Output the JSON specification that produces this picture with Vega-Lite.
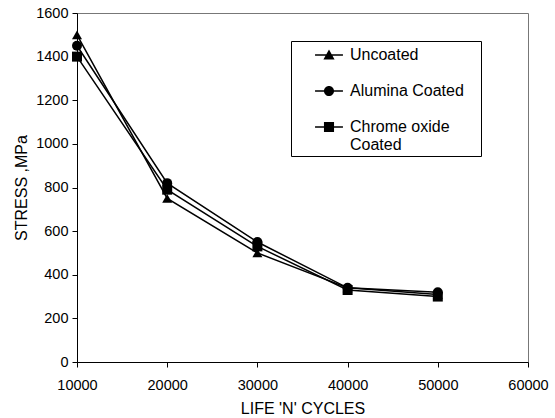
{
  "$schema": "https://vega.github.io/schema/vega-lite/v6.json",
  "autosize": "none",
  "width": 451,
  "height": 349,
  "padding": {"left": 77, "top": 13, "right": 27, "bottom": 56},
  "background": "white",
  "config": {
    "font": "Liberation Sans",
    "view": {"stroke": "#777777", "strokeWidth": 1},
    "axis": {"grid": false, "domainColor": "black", "tickColor": "black", "labelColor": "black", "titleColor": "black", "labelFontSize": 14.5, "titleFontSize": 16, "titleFontWeight": "normal", "tickSize": 5}
  },
  "data": {"values": [
    {"cycles": 10000, "stress": 1500, "series": "Uncoated"},
    {"cycles": 20000, "stress": 750, "series": "Uncoated"},
    {"cycles": 30000, "stress": 500, "series": "Uncoated"},
    {"cycles": 40000, "stress": 340, "series": "Uncoated"},
    {"cycles": 50000, "stress": 310, "series": "Uncoated"},
    {"cycles": 10000, "stress": 1450, "series": "Alumina Coated"},
    {"cycles": 20000, "stress": 820, "series": "Alumina Coated"},
    {"cycles": 30000, "stress": 550, "series": "Alumina Coated"},
    {"cycles": 40000, "stress": 340, "series": "Alumina Coated"},
    {"cycles": 50000, "stress": 320, "series": "Alumina Coated"},
    {"cycles": 10000, "stress": 1400, "series": "Chrome oxide Coated"},
    {"cycles": 20000, "stress": 790, "series": "Chrome oxide Coated"},
    {"cycles": 30000, "stress": 530, "series": "Chrome oxide Coated"},
    {"cycles": 40000, "stress": 330, "series": "Chrome oxide Coated"},
    {"cycles": 50000, "stress": 300, "series": "Chrome oxide Coated"}
  ]},
  "encoding": {
    "x": {"field": "cycles", "type": "quantitative", "scale": {"domain": [10000, 60000], "nice": false, "zero": false},
      "axis": {"title": "LIFE 'N' CYCLES", "values": [10000, 20000, 30000, 40000, 50000, 60000], "format": "d", "labelFlush": false, "labelPadding": 11, "titlePadding": 9}},
    "y": {"field": "stress", "type": "quantitative", "scale": {"domain": [0, 1600], "nice": false},
      "axis": {"title": "STRESS ,MPa", "values": [0, 200, 400, 600, 800, 1000, 1200, 1400, 1600], "format": "d", "labelPadding": 4, "titlePadding": 6}}
  },
  "resolve": {"scale": {"shape": "independent"}, "legend": {"shape": "independent"}},
  "layer": [
    {
      "mark": {"type": "line", "color": "black", "strokeWidth": 1.5},
      "encoding": {"detail": {"field": "series"}}
    },
    {
      "mark": {"type": "point", "filled": true, "color": "black", "opacity": 1, "size": 100},
      "encoding": {
        "shape": {"field": "series", "type": "nominal", "legend": null,
          "scale": {"domain": ["Uncoated", "Alumina Coated", "Chrome oxide Coated"], "range": ["triangle-up", "circle", "square"]}}
      }
    },
    {
      "mark": {"type": "point", "filled": true, "color": "black", "opacity": 0, "size": 100},
      "encoding": {
        "shape": {"field": "series", "type": "nominal",
          "scale": {"domain": ["Uncoated", "Alumina Coated", "Chrome oxide Coated"],
            "range": ["M-1.55,-0.075L1.55,-0.075L1.55,0.075L-1.55,0.075ZM-0.62,0.5L0,-0.6L0.62,0.5Z", "M-1.55,-0.075L1.55,-0.075L1.55,0.075L-1.55,0.075ZM-0.56,0A0.56,0.56,0,1,1,0.56,0A0.56,0.56,0,1,1,-0.56,0Z", "M-1.55,-0.075L1.55,-0.075L1.55,0.075L-1.55,0.075ZM-0.56,-0.56L0.56,-0.56L0.56,0.56L-0.56,0.56Z"]},
          "legend": {
            "title": "MMMMMMMMMMMMMMMMMMMMMMMMMMMMMMMMMMMMMMMMMMMMMMMMMMMMMMMMMMMMMMMMMMMMMMMMMMMMMMMMMMMMMMMMMMMMMMMMMMMMMMMMMMMMMM",
            "titleOpacity": 0, "titleFontSize": 2, "titlePadding": 0, "titleLimit": 1000,
            "orient": "none", "legendX": 214, "legendY": 28,
            "strokeColor": "black", "fillColor": "white", "padding": 3,
            "symbolOpacity": 1, "symbolFillColor": "black", "symbolStrokeColor": "black", "symbolStrokeWidth": 0, "symbolSize": 324, "symbolOffset": 26,
            "labelFontSize": 16, "labelColor": "black", "labelOffset": 12, "rowPadding": 19,
            "labelBaseline": "middle",
            "labelExpr": "datum.label == 'Chrome oxide Coated' ? ['Chrome oxide', 'Coated'] : datum.label",
            "labelLimit": 300,
            "encode": {
              "symbols": {"update": {"fill": {"value": "black"}, "fillOpacity": {"value": 1}, "opacity": {"value": 1}}},
              "labels": {"update": {"dy": {"signal": "datum.label == 'Chrome oxide Coated' ? 9 : 0"}}}
            }
          }
        }
      }
    }
  ]
}
